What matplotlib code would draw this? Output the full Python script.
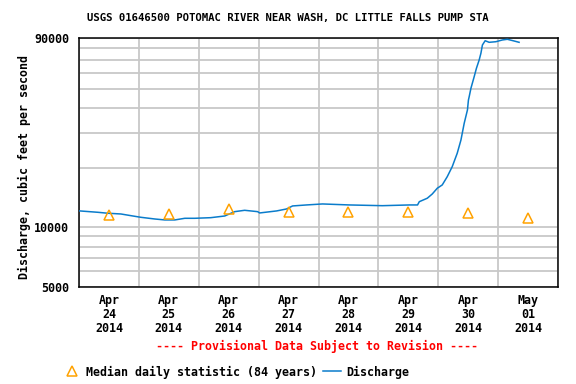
import matplotlib
matplotlib.use("Agg")
import matplotlib.pyplot as plt
import matplotlib.dates as mdates
from matplotlib.lines import Line2D
from datetime import datetime, timedelta

# ---- data ----
start = datetime(2014, 4, 24)
hours = [0, 7.6, 11.6, 16.8, 20.8, 24.8, 30.4, 34.4, 38.4, 42.4, 46.4, 52.8, 58.4,
         62.4, 66.4, 71.6, 72.4, 79.2, 83.2, 85.6, 91.2, 97.6, 108.4, 121.6, 132.4,
         135.7, 136.4, 139.6, 141.6, 143.6, 145.6, 147.6, 149.6, 151.6, 153.1, 154.4,
         155.7, 156.1, 156.4, 157.1, 158.4, 159.3, 160.4, 161.1, 161.7, 162.8, 164.4,
         167.1, 169.7, 171.7, 174.4, 176.4]
discharge = [12100, 11900, 11770, 11670, 11445, 11230, 11010, 10890, 10890, 11100,
             11100, 11180, 11400, 11990, 12180, 11990, 11810, 12090, 12370, 12810,
             12960, 13110, 12960, 12850, 12960, 12960, 13460, 14010, 14720, 15730,
             16350, 17990, 20210, 23610, 27550, 33440, 39030, 43820, 45530, 50210,
             57430, 63310, 69710, 75380, 82970, 87200, 85610, 86200, 87970, 88670,
             86930, 85610]
median_days = ["2014-04-24", "2014-04-25", "2014-04-26", "2014-04-27",
               "2014-04-28", "2014-04-29", "2014-04-30", "2014-05-01"]
median_vals = [11580, 11730, 12330, 11990, 11990, 11990, 11770, 11100]
ytick_major = [5000, 10000, 90000]
ytick_minor = [6000, 7000, 8000, 9000, 20000, 30000, 40000, 50000, 60000, 70000, 80000]

title = "USGS 01646500 POTOMAC RIVER NEAR WASH, DC LITTLE FALLS PUMP STA"
ylabel = "Discharge, cubic feet per second"
provisional = "---- Provisional Data Subject to Revision ----"
leg_median = "Median daily statistic (84 years)"
leg_discharge = "Discharge"

FONT = "DejaVu Sans Mono"
BLUE = "#0a7ccb"
ORANGE = "#ffa200"

times = [start + timedelta(hours=h) for h in hours]
mtimes = [datetime.strptime(d, "%Y-%m-%d") + timedelta(hours=12) for d in median_days]

fig = plt.figure(figsize=(5.76, 3.84), dpi=100)
ax = fig.add_axes([79/576, 1-287/384, (558-79)/576, (287-38)/384])

ax.set_yscale("log")
ax.set_ylim(5000, 90000)
ax.set_xlim(start, start + timedelta(days=8))

ax.plot(times, discharge, color=BLUE, lw=1.1, zorder=3)
ax.plot(mtimes, median_vals, linestyle="none", marker="^", markersize=7,
        markerfacecolor="none", markeredgecolor=ORANGE, markeredgewidth=1.1, zorder=4)

ax.set_yticks(ytick_major)
ax.set_yticklabels([str(v) for v in ytick_major])
ax.set_yticks(ytick_minor, minor=True)
ax.yaxis.set_minor_formatter(matplotlib.ticker.NullFormatter())

ax.xaxis.set_major_locator(mdates.DayLocator())
ax.xaxis.set_major_formatter(matplotlib.ticker.NullFormatter())
ax.xaxis.set_minor_locator(mdates.HourLocator(byhour=[12]))
ax.xaxis.set_minor_formatter(mdates.DateFormatter("%b\n%d\n%Y"))

ax.yaxis.grid(True, which="both", color="#c8c8c8", lw=1.3, zorder=0)
ax.xaxis.grid(True, which="major", color="#c8c8c8", lw=1.3, zorder=0)
ax.xaxis.grid(False, which="minor")
ax.tick_params(which="both", length=0)
ax.tick_params(axis="x", which="minor", pad=5)
ax.tick_params(axis="y", which="major", pad=7)
for lab in ax.get_xticklabels(minor=True) + ax.get_yticklabels():
    lab.set_fontfamily(FONT)
    lab.set_fontweight("bold")
    lab.set_fontsize(8.4)
for lab in ax.get_xticklabels(minor=True):
    lab.set_linespacing(1.1)
for s in ax.spines.values():
    s.set_linewidth(1.1)
    s.set_color("black")

fig.text(288/576, 1-18.5/384, title, ha="center", va="center", fontfamily=FONT,
         fontweight="bold", fontsize=7.7)
fig.text(24/576, 1-167/384, ylabel, ha="center", va="center", rotation=90,
         fontfamily=FONT, fontweight="bold", fontsize=8.4)
fig.text(317/576, 1-346/384, provisional, ha="center", va="center", color="#ff0000",
         fontfamily=FONT, fontweight="bold", fontsize=8.4)

handles = [Line2D([], [], linestyle="none", marker="^", markersize=7,
                  markerfacecolor="none", markeredgecolor=ORANGE, markeredgewidth=1.1),
           Line2D([], [], color=BLUE, lw=1.1)]
fig.legend(handles, [leg_median, leg_discharge], loc="center left",
           bbox_to_anchor=(52/576, 1-372/384), ncol=2, frameon=False,
           handlelength=1.6, handletextpad=0.4, columnspacing=0.5,
           prop={"family": FONT, "weight": "bold", "size": 8.4})

fig.savefig("out.png", dpi=100)
